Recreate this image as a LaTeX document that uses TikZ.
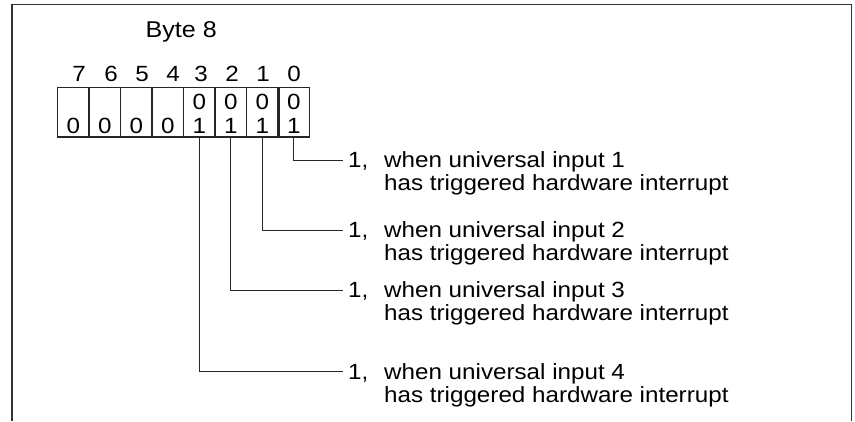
\documentclass[tikz,border=0pt]{standalone}
\usepackage{fontspec}
\setmainfont{Liberation Sans}[FakeStretch=1.1]
\begin{document}
\begin{tikzpicture}[x=1pt,y=-1pt,
  lbl/.style={font=\fontsize{22}{26}\selectfont, inner sep=0pt, anchor=base},
  lblw/.style={lbl, anchor=base west},
  cell/.style={draw=black!85, line width=1.1pt, minimum width=31.5pt, minimum height=49.5pt, inner sep=0pt},
  conn/.style={draw=black!85, line width=1pt},
  frame/.style={draw=black!80, line width=1.3pt}]
\useasboundingbox (0,0) rectangle (855,421);
\draw[frame] (12,421) -- (12,4.5) -- (851.5,4.5) -- (851.5,421);

% title
\node[lblw, font=\fontsize{22.8}{27}\selectfont] (title) at (145.5,37.5) {Byte 8};

% cells
\foreach \b/\x in {7/73.25,6/104.75,5/136.25,4/167.75,3/199.25,2/230.75,1/262.25,0/293.75}{
  \node[cell] (c\b) at (\x,112.25) {};
}
\draw[conn, line width=1.1pt] (279.3,87.5) -- (279.3,137);

% bit numbers
\foreach \b/\x in {7/79,6/111,5/142,4/173,3/201,2/232,1/263,0/294}{
  \node[lbl] (n\b) at (\x,81) {\b};
}

% cell contents
\foreach \b/\x in {7/73.25,6/104.75,5/136.25,4/167.75}{
  \node[lbl] (z\b) at (\x,133.3) {0};
}
\foreach \b/\x in {3/199.25,2/230.75,1/262.25,0/293.75}{
  \node[lbl] (t\b) at (\x,109) {0};
  \node[lbl] (o\b) at (\x,133.3) {1};
}

% connectors and texts
\foreach \b/\y/\k in {0/160/1,1/230/2,2/290/3,3/371.7/4}{
  \coordinate (e\b) at (343,\y);
  \draw[conn] (c\b.south) |- (e\b);
  \node[lblw] (one\b) at (348,\y+7.5) {1,};
  \node[lblw] (a\b) at (384,\y+7.5) {when universal input \k};
  \node[lblw] (h\b) at (384,\y+30.5) {has triggered hardware interrupt};
}
\end{tikzpicture}
\end{document}
